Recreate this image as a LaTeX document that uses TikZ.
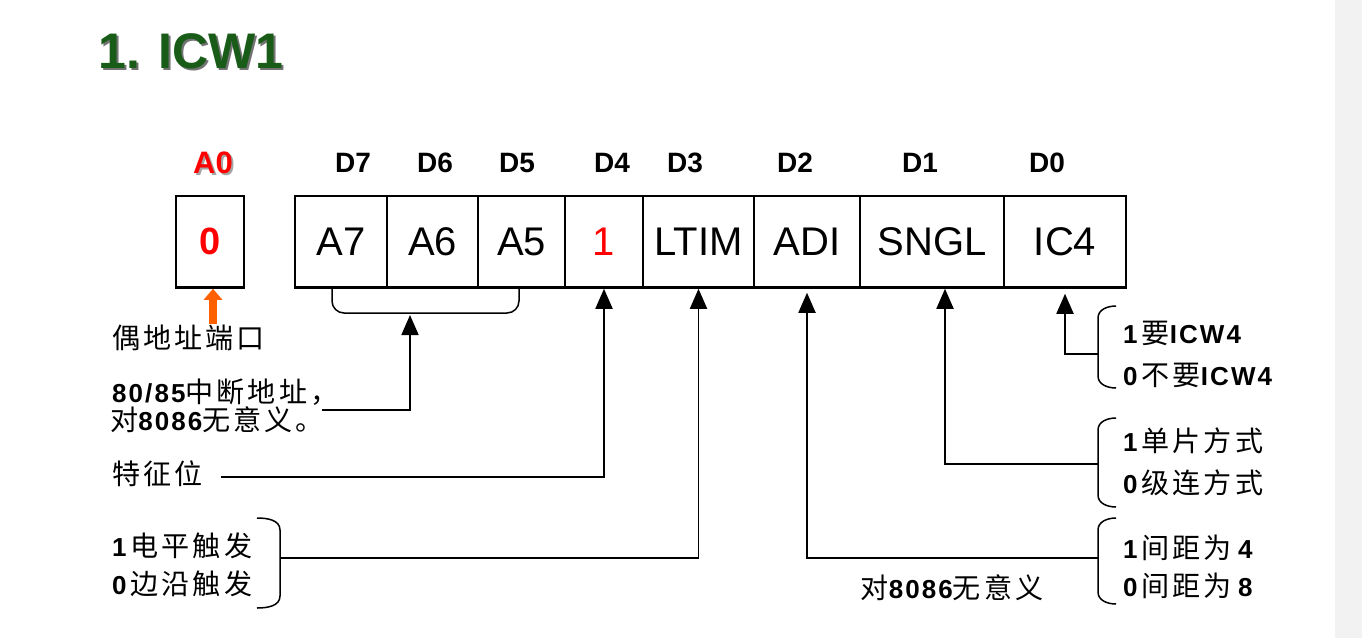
\documentclass[tikz,border=0pt]{standalone}
\usepackage{fontspec}
\setmainfont{Liberation Sans}
\newfontfamily\ann[LetterSpace=8]{Liberation Sans}
\newfontfamily\cjk[LetterSpace=11, Scale=1.08]{Noto Sans CJK SC}
\usepackage{xcolor}
\usetikzlibrary{arrows.meta, positioning, calc}

\definecolor{titlegreen}{RGB}{24,92,24}
\definecolor{evenorange}{RGB}{255,96,0}
\newcommand\zh[1]{{\mdseries\cjk #1}}

\begin{document}
\begin{tikzpicture}[x=1pt, y=-1pt,
  cell/.style={draw, line width=2.4pt, minimum height=91.5pt, inner sep=0pt,
               font=\fontsize{40}{44}\selectfont},
  bitlbl/.style={font=\bfseries\fontsize{28}{32}\selectfont},
  ann/.style={anchor=west, inner sep=0pt, font=\ann\fontsize{26}{30}\selectfont},
  conn/.style={line width=1.8pt, -{Triangle[width=17pt, length=20pt]}},
  brk/.style={line width=1.5pt},
  evenarrow/.style={line width=8pt, draw=evenorange,
                    -{Triangle[width=18pt, length=11pt]}}
]
  \useasboundingbox (0,0) rectangle (1362,638);
  \fill[black!5] (1335,0) rectangle (1362,638);

  % title with its shadow
  \node[anchor=base west, inner sep=0pt, text=black!55,
        font=\bfseries\fontsize{50}{54}\selectfont] (titleshadow) at (100,70) {1. ICW1};
  \node[anchor=base west, inner sep=0pt, text=titlegreen,
        font=\bfseries\fontsize{50}{54}\selectfont] (title) at (98,68) {1. ICW1};

  % A0 port box
  \node[cell, minimum width=68pt] (a0) at (210,241.8)
    {\textcolor{red}{\bfseries\fontsize{38}{40}\selectfont 0}};
  \node[bitlbl, text=black!35, font=\bfseries\fontsize{31}{33}\selectfont] (a0shadow) at (215,165) {A0};
  \node[bitlbl, text=red, font=\bfseries\fontsize{31}{33}\selectfont] (a0lbl) at (213,163) {A0};

  % register cells D7..D0
  \foreach \l/\r/\t/\n in {295/387/A7/c7, 387/478/A6/c6, 478/565/A5/c5,
      565/643/{\textcolor{red}{1}}/c4, 643/754/LTIM/c3, 754/860/ADI/c2,
      860/1004/SNGL/c1, 1004/1126/IC4/c0}{
    \pgfmathsetmacro\w{\r-\l}
    \pgfmathsetmacro\m{(\l+\r)/2}
    \node[cell, minimum width=\w pt] (\n) at (\m,241.8) {\t};
  }
  \foreach \x/\t/\n in {353/D7/d7, 435/D6/d6, 517/D5/d5, 612/D4/d4,
      685/D3/d3, 795/D2/d2, 920/D1/d1, 1047/D0/d0}{
    \node[bitlbl] (\n) at (\x,163) {\t};
  }

  % even port
  \coordinate (evenfoot) at (213,324);
  \draw[evenarrow] (evenfoot) -- (evenfoot |- a0.south);
  \node[ann] (even) at (112,338) {\zh{偶地址端口}};

  % A7..A5
  \draw[brk, rounded corners=12pt] (332,288) -- (332,313) -- (519,313) -- (519,288);
  \coordinate (addrbrace) at (410,315);
  \node[ann] (addr1) at (112,392) {\bfseries 80/85\zh{中断地址，}};
  \node[ann] (addr2) at (110,420) {\zh{对}\bfseries 8086\zh{无意义。}};
  \coordinate (addrout) at (322,410);
  \draw[conn] (addrout) -| (addrbrace);

  % D4
  \node[ann] (feat) at (112,474) {\zh{特征位}};
  \draw[conn] ([xshift=18pt, yshift=-3pt]feat.east) -| (c4.south);

  % D3 LTIM
  \node[ann] (lt1) at (112,546) {\bfseries 1\hspace{4pt}\zh{电平触发}};
  \node[ann] (lt0) at (112,584) {\bfseries 0\hspace{4pt}\zh{边沿触发}};
  \draw[brk] (257,518) to[out=0, in=90] (280,530) -- (280,596)
    to[out=-90, in=0] (257,608);
  \coordinate (ltip) at (280,558);
  \draw[conn] (ltip) -| (c3.south);

  % D2 ADI
  \node[ann] (ad1) at (1123,548) {\bfseries 1\hspace{4pt}\zh{间距为}\hspace{6pt}4};
  \node[ann] (ad0) at (1123,586) {\bfseries 0\hspace{4pt}\zh{间距为}\hspace{6pt}8};
  \draw[brk] (1116,518) to[out=180, in=90] (1098,530) -- (1098,592)
    to[out=-90, in=180] (1116,604);
  \coordinate (aditip) at (1098,558);
  \draw[conn, shorten >=4pt] (aditip) -| (c2.south);
  \node[ann, anchor=center] (adinote) at (952,588) {\zh{对}\bfseries 8086\zh{无意义}};

  % D1 SNGL
  \node[ann] (sg1) at (1123,441) {\bfseries 1\hspace{4pt}\zh{单片方式}};
  \node[ann] (sg0) at (1123,483) {\bfseries 0\hspace{4pt}\zh{级连方式}};
  \draw[brk] (1116,418) to[out=180, in=90] (1098,430) -- (1098,495)
    to[out=-90, in=180] (1116,507);
  \coordinate (sngltip) at (1098,464);
  \draw[conn] (sngltip) -| ([xshift=13pt]c1.south);

  % D0 IC4
  \node[ann] (ic1) at (1123,333) {\bfseries 1\hspace{4pt}\zh{要}ICW4};
  \node[ann] (ic0) at (1123,375) {\bfseries 0\hspace{4pt}\zh{不要}ICW4};
  \draw[brk] (1116,306) to[out=180, in=90] (1098,318) -- (1098,376)
    to[out=-90, in=180] (1116,388);
  \coordinate (ic4tip) at (1098,354);
  \draw[conn, shorten >=5pt] (ic4tip) -| (c0.south);
\end{tikzpicture}
\end{document}
